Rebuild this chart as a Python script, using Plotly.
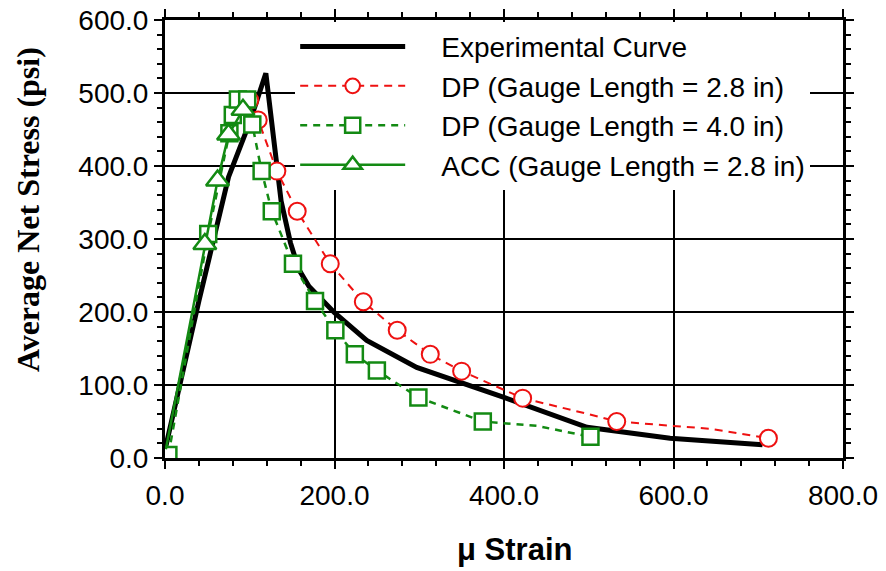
import plotly.graph_objects as go

# ---------------- data ----------------
exp_x = [0, 40, 75, 100, 119, 128, 137, 148, 158, 170, 200, 238, 297, 400, 498, 596, 705]
exp_y = [11, 215, 385, 460, 527, 440, 352, 295, 258, 235, 199, 161, 124, 83, 42, 27, 18]

dp28_x = [100, 110, 132, 156, 195, 234, 274, 313, 350, 422, 500, 533, 643, 712]
dp28_y = [490, 463, 393, 338, 266, 214, 175, 142, 119, 82, 60, 50, 40, 27]
dp28_marked = [1, 1, 1, 1, 1, 1, 1, 1, 1, 1, 0, 1, 0, 1]

dp40_x = [4, 51, 76, 80, 86, 97, 103, 114, 126, 151, 177, 201, 224, 250, 299, 375, 439, 502]
dp40_y = [4, 307, 445, 470, 491, 491, 457, 393, 338, 266, 215, 175, 142, 120, 83, 50, 44, 29]
dp40_marked = [1, 1, 1, 1, 1, 1, 1, 1, 1, 1, 1, 1, 1, 1, 1, 1, 0, 1]

acc_x = [1, 47, 62, 75, 92]
acc_y = [12, 293, 380, 443, 477]
acc_marked = [0, 1, 1, 1, 1]

names = ["Experimental Curve", "DP (Gauge Length = 2.8 in)",
         "DP (Gauge Length = 4.0 in)", "ACC (Gauge Length = 2.8 in)"]

x_ticks = [0, 200, 400, 600, 800]
y_ticks = [0, 100, 200, 300, 400, 500, 600]
x_title = "μ Strain"
y_title = "Average Net Stress (psi)"

RED = "#ee1111"
GREEN = "#138a13"
FONT = "Arial, Liberation Sans, sans-serif"
PAD = "\u00a0" * 4

fig = go.Figure()
fig.add_trace(go.Scatter(x=exp_x, y=exp_y, mode="lines", name=PAD + names[0],
                         line=dict(color="black", width=5)))
fig.add_trace(go.Scatter(x=dp28_x, y=dp28_y, mode="lines+markers", name=PAD + names[1],
                         line=dict(color=RED, width=2, dash="8px,6px"),
                         marker=dict(symbol="circle", size=[17 * m for m in dp28_marked], opacity=1,
                                     color="white", line=dict(color=RED, width=2))))
fig.add_trace(go.Scatter(x=dp40_x, y=dp40_y, mode="lines+markers", name=PAD + names[2],
                         line=dict(color=GREEN, width=2.5, dash="7px,6px"),
                         marker=dict(symbol="square", size=[16 * m for m in dp40_marked], opacity=1,
                                     color="white", line=dict(color=GREEN, width=2.5))))
fig.add_trace(go.Scatter(x=acc_x, y=acc_y, mode="lines+markers", name=PAD + names[3],
                         line=dict(color=GREEN, width=2.5),
                         marker=dict(symbol="triangle-up", size=[20 * m for m in acc_marked], opacity=1,
                                     color="white", line=dict(color=GREEN, width=2.5))))

axis_common = dict(
    showline=True, linecolor="black", linewidth=3, mirror="allticks",
    ticks="outside", ticklen=8, tickwidth=2, tickcolor="black",
    showgrid=True, gridcolor="black", gridwidth=2, zeroline=False,
    tickfont=dict(family=FONT, size=28, color="black"),
    tickformat=".1f", automargin=False, ticklabeloverflow="allow",
)

fig.update_xaxes(range=[0, 800], tickvals=x_ticks,
                 minor=dict(dtick=40, ticklen=5, tickwidth=2, tickcolor="black", showgrid=False, ticks="outside"),
                 ticklabelstandoff=2, **axis_common)
fig.update_yaxes(range=[0, 600], tickvals=y_ticks,
                 minor=dict(dtick=20, ticklen=5, tickwidth=2, tickcolor="black", showgrid=False, ticks="outside"),
                 ticklabelstandoff=0, **axis_common)

fig.add_annotation(text="<b>" + x_title + "</b>", xref="paper", yref="paper",
                   x=0.5, y=0, xshift=10, yshift=-91, xanchor="center", yanchor="middle",
                   showarrow=False, font=dict(family=FONT, size=31, color="black"))
fig.add_annotation(text="<b>" + y_title + "</b>", xref="paper", yref="paper",
                   x=0, y=0.566, xshift=-137, xanchor="center", yanchor="middle", textangle=-90,
                   showarrow=False,
                   font=dict(family="Times New Roman, Liberation Serif, serif", size=32, color="black"))

fig.update_layout(
    width=886, height=571,
    margin=dict(l=165, r=43, t=20, b=113),
    paper_bgcolor="white", plot_bgcolor="white",
    showlegend=True,
    legend=dict(x=0.192, y=0.996, xanchor="left", yanchor="top",
                bgcolor="white", borderwidth=0, itemwidth=105,
                font=dict(family=FONT, size=28, color="black"),
                tracegroupgap=0),
)

fig.write_html("out.html", config={"displayModeBar": False},
               post_script="document.body.style.margin='0px';")
